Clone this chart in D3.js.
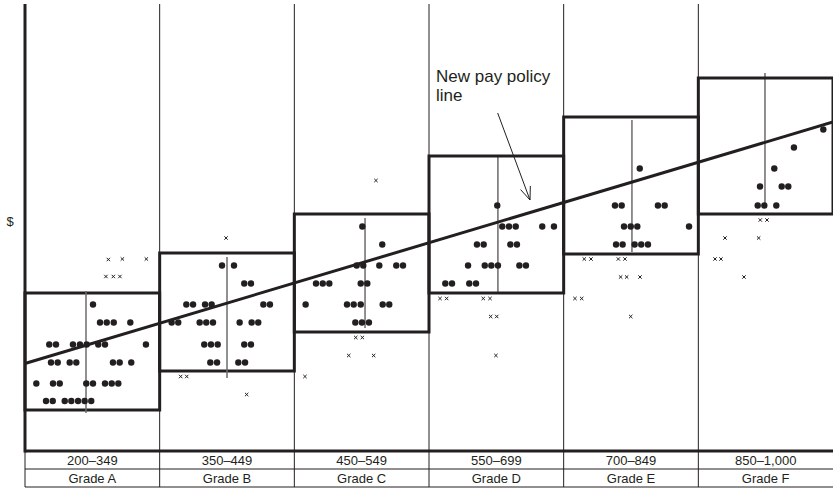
<!DOCTYPE html>
<html>
<head>
<meta charset="utf-8">
<script src="https://cdn.jsdelivr.net/npm/d3@7"></script>
<style>
  html, body { margin: 0; padding: 0; background: #fff; }
  svg { display: block; }
  text { font-family: "Liberation Sans", Arial, Helvetica, sans-serif; fill: #231f20; }
</style>
</head>
<body>
<svg id="chart" width="833" height="490"></svg>
<script>
// Grades, their job-evaluation point ranges and pay ranges (pay in $ units)
const grades = ["Grade A", "Grade B", "Grade C", "Grade D", "Grade E", "Grade F"];
const pointRanges = ["200–349", "350–449", "450–549", "550–699", "700–849", "850–1,000"];
const rangeMin = [80, 158, 236, 314, 392, 472];
const rangeMax = [314, 394, 472, 588, 666, 744];

// Spread of pay inside each grade (thin vertical line): position, low, high
const spreadPos = [0.453, 1.5, 2.525, 3.512, 4.507, 5.495];
const spreadLow = [74, 144, 244, 316, 396, 490];
const spreadHigh = [318, 386, 464, 586, 660, 754];

// New pay policy line: pay at the left and right ends of the grade scale
const policyPay = [173, 656];

// Employees inside their grade range: [position on grade scale, pay]
const employees = [
  // Grade A
  [0.505, 291],
  [0.557, 255], [0.607, 255], [0.659, 255], [0.782, 255],
  [0.180, 211], [0.230, 211], [0.356, 211], [0.408, 211], [0.458, 211], [0.544, 211], [0.594, 211], [0.898, 211],
  [0.193, 175], [0.243, 175], [0.332, 175], [0.381, 175], [0.653, 175], [0.703, 175], [0.789, 175],
  [0.084, 133], [0.208, 133], [0.258, 133], [0.455, 133], [0.505, 133], [0.594, 133], [0.644, 133], [0.693, 133],
  [0.156, 98], [0.206, 98], [0.295, 98], [0.344, 98], [0.394, 98], [0.443, 98], [0.492, 98],
  // Grade B
  [1.463, 369], [1.552, 369],
  [1.628, 333], [1.678, 333],
  [1.198, 291], [1.248, 291], [1.337, 291], [1.386, 291], [1.770, 291], [1.819, 291],
  [1.089, 255], [1.138, 255], [1.297, 255], [1.346, 255], [1.396, 255], [1.594, 255], [1.683, 255], [1.732, 255],
  [1.331, 211], [1.381, 211], [1.431, 211], [1.628, 211], [1.678, 211],
  [1.376, 175], [1.426, 175], [1.584, 175], [1.634, 175],
  // Grade C
  [2.505, 447],
  [2.653, 411],
  [2.463, 369], [2.512, 369], [2.631, 369], [2.757, 369], [2.807, 369],
  [2.161, 333], [2.211, 333], [2.260, 333], [2.493, 333], [2.542, 333],
  [2.084, 291], [2.391, 291], [2.441, 291], [2.493, 291], [2.656, 291], [2.705, 291],
  [2.453, 255], [2.502, 255], [2.554, 255],
  // Grade D
  [3.507, 489],
  [3.544, 447], [3.594, 447], [3.644, 447], [3.841, 447], [3.928, 447],
  [3.356, 411], [3.406, 411], [3.604, 411], [3.653, 411],
  [3.290, 369], [3.414, 369], [3.463, 369], [3.512, 369], [3.671, 369], [3.720, 369],
  [3.121, 333], [3.171, 333], [3.299, 333], [3.349, 333],
  // Grade E
  [4.565, 563],
  [4.381, 489], [4.431, 489], [4.700, 489], [4.750, 489],
  [4.448, 447], [4.498, 447], [4.547, 447], [4.931, 447],
  [4.389, 411], [4.438, 411], [4.527, 411], [4.576, 411], [4.626, 411],
  // Grade F
  [5.928, 641],
  [5.710, 605],
  [5.564, 563],
  [5.458, 527], [5.619, 527], [5.668, 527],
  [5.441, 489], [5.490, 489], [5.579, 489]
];

// Employees paid outside their grade range: [position on grade scale, pay]
const outliers = [
  // Grade A
  [0.619, 381], [0.723, 382], [0.901, 382], [0.601, 347], [0.656, 347], [0.705, 347],
  // Grade B
  [1.493, 424], [1.156, 147], [1.201, 147], [1.646, 111],
  // Grade C
  [2.606, 539], [2.079, 147], [2.456, 225], [2.505, 225], [2.404, 189], [2.589, 189],
  // Grade D
  [3.082, 303], [3.131, 303], [3.403, 303], [3.453, 303], [3.458, 267], [3.503, 267], [3.497, 189],
  // Grade E
  [4.153, 382], [4.203, 382], [4.406, 382], [4.455, 382], [4.423, 346], [4.468, 346], [4.567, 346],
  [4.084, 303], [4.134, 303], [4.498, 267],
  // Grade F
  [5.460, 460], [5.510, 460], [5.198, 424], [5.448, 424], [5.124, 382], [5.168, 382], [5.339, 346]
];

const annotation = ["New pay policy", "line"];

// ---- layout ----
const svg = d3.select("#chart");
const plotLeft = 25, plotRight = 833, plotTop = 4, plotBottom = 451;
const row1 = 469, row2 = 487;

const x = d3.scaleLinear().domain([0, grades.length]).range([plotLeft, plotRight]);
const y = d3.scaleLinear().domain([0, 894]).range([450, 3]);

const ink = "#231f20";

// column dividers running through the plot and the table
svg.append("g").selectAll("line")
  .data(d3.range(1, grades.length))
  .join("line")
  .attr("x1", d => x(d)).attr("x2", d => x(d))
  .attr("y1", plotTop).attr("y2", row2)
  .attr("stroke", ink).attr("stroke-width", 1);

// table frame
svg.append("line").attr("x1", plotLeft).attr("x2", plotLeft).attr("y1", plotBottom).attr("y2", row2)
  .attr("stroke", ink).attr("stroke-width", 1);
[row1, row2].forEach(yy => svg.append("line")
  .attr("x1", plotLeft).attr("x2", plotRight).attr("y1", yy).attr("y2", yy)
  .attr("stroke", ink).attr("stroke-width", 1));

// table labels
const table = svg.append("g").attr("font-size", 13).attr("text-anchor", "middle");
table.selectAll("text.range").data(pointRanges).join("text")
  .attr("class", "range")
  .attr("x", (d, i) => x(i + 0.5)).attr("y", row1 - 4)
  .text(d => d);
table.selectAll("text.grade").data(grades).join("text")
  .attr("class", "grade")
  .attr("x", (d, i) => x(i + 0.5)).attr("y", row2 - 4)
  .text(d => d);

// pay range boxes
svg.append("g").selectAll("rect")
  .data(grades)
  .join("rect")
  .attr("x", (d, i) => x(i))
  .attr("width", x(1) - x(0))
  .attr("y", (d, i) => y(rangeMax[i]))
  .attr("height", (d, i) => y(rangeMin[i]) - y(rangeMax[i]))
  .attr("fill", "none").attr("stroke", ink).attr("stroke-width", 3);

// spread lines
svg.append("g").selectAll("line")
  .data(grades)
  .join("line")
  .attr("x1", (d, i) => x(spreadPos[i])).attr("x2", (d, i) => x(spreadPos[i]))
  .attr("y1", (d, i) => y(spreadHigh[i])).attr("y2", (d, i) => y(spreadLow[i]))
  .attr("stroke", (d, i) => (i === 3 || i === 5) ? ink : "#6d6b6c")
  .attr("stroke-width", (d, i) => (i === 3 || i === 5) ? 1 : 1.5);

// axes: $ on the left, grades along the bottom
svg.append("line").attr("x1", plotLeft).attr("x2", plotLeft).attr("y1", plotTop).attr("y2", plotBottom + 1.5)
  .attr("stroke", ink).attr("stroke-width", 3);
svg.append("line").attr("x1", plotLeft).attr("x2", plotRight).attr("y1", plotBottom).attr("y2", plotBottom)
  .attr("stroke", ink).attr("stroke-width", 3);
svg.append("text").attr("x", 10).attr("y", 226).attr("font-size", 13)
  .attr("text-anchor", "middle").text("$");

// employees within range
svg.append("g").selectAll("circle")
  .data(employees)
  .join("circle")
  .attr("cx", d => x(d[0])).attr("cy", d => y(d[1]))
  .attr("r", 3.2).attr("fill", ink);

// employees outside range
const s = 1.7;
svg.append("g").selectAll("path")
  .data(outliers)
  .join("path")
  .attr("d", d => {
    const cx = x(d[0]), cy = y(d[1]);
    return `M${cx - s},${cy - s}L${cx + s},${cy + s}M${cx - s},${cy + s}L${cx + s},${cy - s}`;
  })
  .attr("stroke", ink).attr("stroke-width", 1);

// new pay policy line
svg.append("line")
  .attr("x1", x(0)).attr("y1", y(policyPay[0]))
  .attr("x2", x(grades.length)).attr("y2", y(policyPay[1]))
  .attr("stroke", ink).attr("stroke-width", 3);

// annotation with arrow pointing at the policy line
svg.append("g").attr("font-size", 17)
  .selectAll("text").data(annotation).join("text")
  .attr("x", x(3) + 7).attr("y", (d, i) => 82 + i * 19)
  .text(d => d);

const tail = [3.51, 674], tip = [3.75, 500];
const ax0 = x(tail[0]), ay0 = y(tail[1]), ax1 = x(tip[0]), ay1 = y(tip[1]);
svg.append("line").attr("x1", ax0).attr("y1", ay0).attr("x2", ax1).attr("y2", ay1)
  .attr("stroke", ink).attr("stroke-width", 1);
const ang = Math.atan2(ay1 - ay0, ax1 - ax0), hl = 14, spread = 0.38;
svg.append("path")
  .attr("d", `M${ax1 - hl * Math.cos(ang - spread)},${ay1 - hl * Math.sin(ang - spread)}L${ax1},${ay1}L${ax1 - hl * Math.cos(ang + spread)},${ay1 - hl * Math.sin(ang + spread)}`)
  .attr("fill", "none").attr("stroke", ink).attr("stroke-width", 1);
</script>
</body>
</html>
